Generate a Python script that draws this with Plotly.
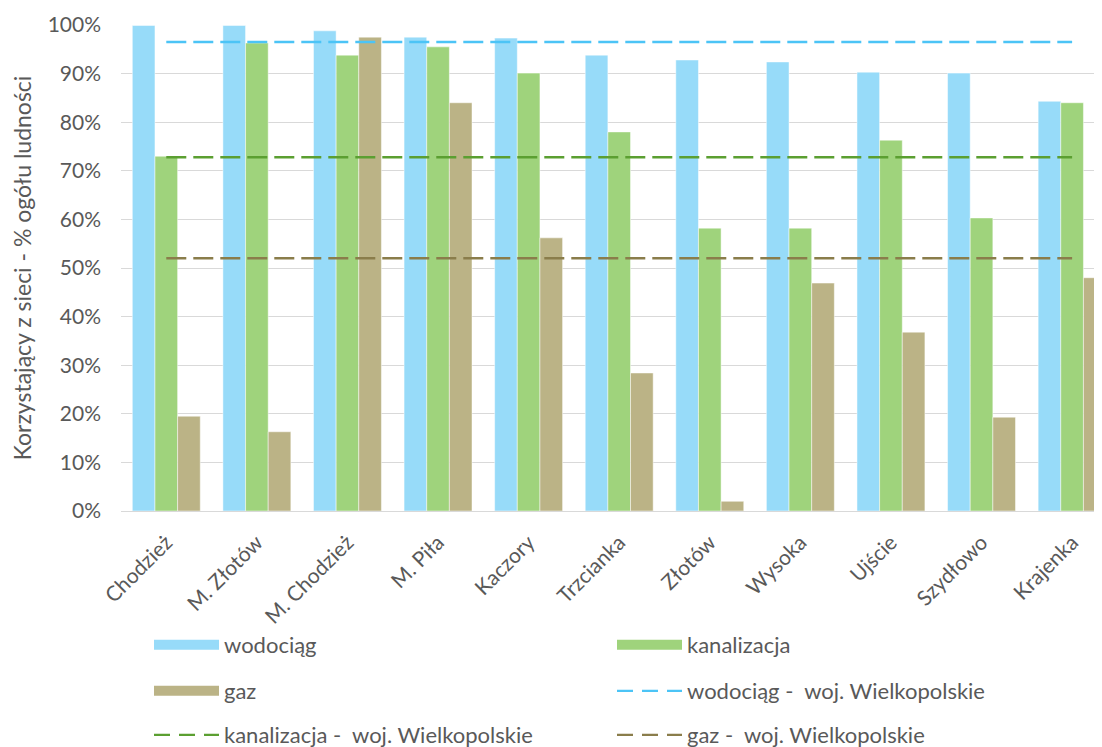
import plotly.graph_objects as go

# dane
gminy = ["Chodzież", "M. Złotów", "M. Chodzież", "M. Piła", "Kaczory", "Trzcianka",
         "Złotów", "Wysoka", "Ujście", "Szydłowo", "Krajenka"]
wodociag = [0.999, 0.999, 0.988, 0.975, 0.973, 0.938, 0.928, 0.924, 0.903, 0.901, 0.843]
kanalizacja = [0.730, 0.963, 0.938, 0.955, 0.901, 0.780, 0.582, 0.582, 0.763, 0.603, 0.840]
gaz = [0.195, 0.163, 0.975, 0.840, 0.562, 0.284, 0.020, 0.469, 0.368, 0.193, 0.480]

# woj. Wielkopolskie
woj_wodociag = 0.965
woj_kanalizacja = 0.728
woj_gaz = 0.520

kol_wod = "#97DBF9"
kol_kan = "#9FD37C"
kol_gaz = "#BBB386"
lin_wod = "#4CC4F6"
lin_kan = "#5B9F31"
lin_gaz = "#8A7D4B"
szary = "#595959"

# strona ma 8px marginesu body, wiec rysunek jest o 8px mniejszy
W, H = 1094, 739

fig = go.Figure()

## slupki
for nazwa, wart, kol in [("wodociąg", wodociag, kol_wod),
                         ("kanalizacja", kanalizacja, kol_kan),
                         ("gaz", gaz, kol_gaz)]:
    fig.add_trace(go.Bar(x=gminy, y=wart, name=nazwa, marker_color=kol,
                         marker_line=dict(width=0.8, color="rgba(255,255,255,0.6)"),
                         showlegend=False))

## linie wojewodzkie
for nazwa, wart, kol in [("wodociąg -  woj. Wielkopolskie", woj_wodociag, lin_wod),
                         ("kanalizacja -  woj. Wielkopolskie", woj_kanalizacja, lin_kan),
                         ("gaz -  woj. Wielkopolskie", woj_gaz, lin_gaz)]:
    fig.add_trace(go.Scatter(x=gminy, y=[wart] * len(gminy), mode="lines", name=nazwa,
                             line=dict(color=kol, width=2.5, dash="20px,7px"),
                             showlegend=False))

## legenda - osobne wpisy, 3 wiersze po 2
wpisy = [
    ("wodociąg", kol_wod, "solid", 12, "legend"),
    ("kanalizacja", kol_kan, "solid", 12, "legend"),
    ("gaz", kol_gaz, "solid", 12, "legend2"),
    ("wodociąg -\u00a0 woj. Wielkopolskie", lin_wod, "16px,9px", 2.2, "legend2"),
    ("kanalizacja -\u00a0 woj. Wielkopolskie", lin_kan, "16px,9px", 2.2, "legend3"),
    ("gaz -\u00a0 woj. Wielkopolskie", lin_gaz, "16px,9px", 2.2, "legend3"),
]
for nazwa, kol, dash, w, leg in wpisy:
    fig.add_trace(go.Scatter(x=[None], y=[None], mode="lines", name=nazwa,
                             line=dict(color=kol, width=w, dash=dash), legend=leg))

czcionka = dict(family="Lato, Open Sans, sans-serif", size=21, color=szary)
leg_opcje = dict(orientation="h", xref="container", yref="container", x=141 / W,
                 xanchor="left", yanchor="middle", itemwidth=65, entrywidth=383,
                 font=dict(czcionka, size=22), bgcolor="rgba(0,0,0,0)",
                 traceorder="normal")

fig.update_layout(
    width=W, height=H,
    paper_bgcolor="white", plot_bgcolor="white",
    margin=dict(l=113, r=0, t=17, b=236, autoexpand=False),
    barmode="group", bargap=0.25, bargroupgap=0,
    font=czcionka,
    legend=dict(leg_opcje, y=1 - 637 / H),
    legend2=dict(leg_opcje, y=1 - 683 / H),
    legend3=dict(leg_opcje, y=1 - 727 / H),
    xaxis=dict(range=[-0.5, 10.33], tickangle=-45, showgrid=False, automargin=False,
               showline=True, linecolor="#D9D9D9", linewidth=1,
               ticklabelstandoff=10,
               tickfont=dict(size=21, color=szary)),
    yaxis=dict(range=[0, 1], dtick=0.1, tickformat=".0%", showgrid=True, automargin=False,
               gridcolor="#D9D9D9", gridwidth=1, zeroline=False,
               ticklabelstandoff=19,
               tickfont=dict(size=21, color=szary),
               title=dict(text="Korzystający z sieci - % ogółu ludności",
                          font=dict(size=23, color=szary), standoff=9)),
)

fig.write_html("out.html")
